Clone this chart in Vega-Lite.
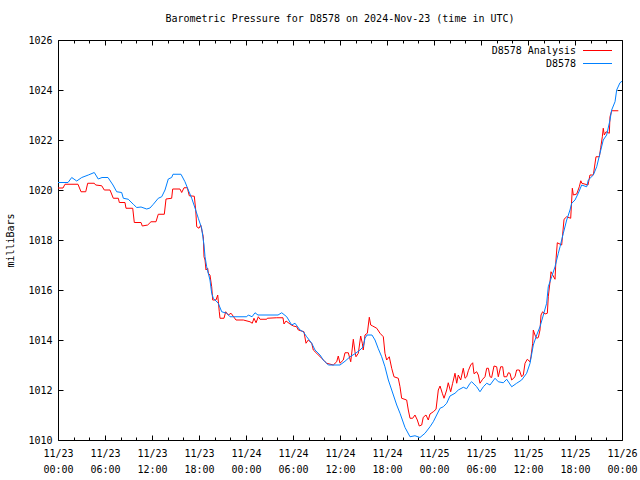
{
  "$schema": "https://vega.github.io/schema/vega-lite/v6.json",
  "width": 564,
  "height": 400,
  "autosize": {"type": "none"},
  "padding": {"left": 58, "top": 40, "right": 18, "bottom": 40},
  "background": "white",
  "title": {
    "text": "Barometric Pressure for D8578 on 2024-Nov-23 (time in UTC)",
    "font": "DejaVu Sans Mono",
    "fontSize": 10,
    "fontWeight": "normal",
    "color": "black",
    "anchor": "middle",
    "frame": "group",
    "offset": 11
  },
  "config": {
    "view": {"stroke": "black", "strokeWidth": 1},
    "axis": {"domain": false, "grid": false, "tickColor": "black", "labelColor": "black", "labelFont": "DejaVu Sans Mono", "labelFontSize": 10, "titleFont": "DejaVu Sans Mono", "titleFontSize": 10, "titleFontWeight": "normal", "titleColor": "black"}
  },
  "data": {
    "values": [
      {"hour":0,"mbar":1020.08,"series":"D8578 Analysis"},{"hour":0.64,"mbar":1020.08,"series":"D8578 Analysis"},{"hour":0.89,"mbar":1020.23,"series":"D8578 Analysis"},{"hour":2.55,"mbar":1020.23,"series":"D8578 Analysis"},{"hour":2.94,"mbar":1019.93,"series":"D8578 Analysis"},{"hour":3.54,"mbar":1019.93,"series":"D8578 Analysis"},{"hour":3.79,"mbar":1020.27,"series":"D8578 Analysis"},{"hour":4.63,"mbar":1020.27,"series":"D8578 Analysis"},{"hour":4.81,"mbar":1020.2,"series":"D8578 Analysis"},{"hour":5.58,"mbar":1020.17,"series":"D8578 Analysis"},{"hour":5.91,"mbar":1020.0,"series":"D8578 Analysis"},{"hour":6.64,"mbar":1020.0,"series":"D8578 Analysis"},{"hour":7.06,"mbar":1019.67,"series":"D8578 Analysis"},{"hour":7.7,"mbar":1019.67,"series":"D8578 Analysis"},{"hour":7.83,"mbar":1019.5,"series":"D8578 Analysis"},{"hour":8.55,"mbar":1019.5,"series":"D8578 Analysis"},{"hour":8.68,"mbar":1019.27,"series":"D8578 Analysis"},{"hour":9.54,"mbar":1019.27,"series":"D8578 Analysis"},{"hour":9.74,"mbar":1018.7,"series":"D8578 Analysis"},{"hour":10.6,"mbar":1018.7,"series":"D8578 Analysis"},{"hour":10.76,"mbar":1018.56,"series":"D8578 Analysis"},{"hour":11.45,"mbar":1018.6,"series":"D8578 Analysis"},{"hour":11.87,"mbar":1018.73,"series":"D8578 Analysis"},{"hour":12.51,"mbar":1018.73,"series":"D8578 Analysis"},{"hour":12.8,"mbar":1019.03,"series":"D8578 Analysis"},{"hour":13.57,"mbar":1019.03,"series":"D8578 Analysis"},{"hour":13.79,"mbar":1019.64,"series":"D8578 Analysis"},{"hour":14.51,"mbar":1019.67,"series":"D8578 Analysis"},{"hour":14.64,"mbar":1020.04,"series":"D8578 Analysis"},{"hour":15.57,"mbar":1020.04,"series":"D8578 Analysis"},{"hour":15.79,"mbar":1019.9,"series":"D8578 Analysis"},{"hour":16.09,"mbar":1020.09,"series":"D8578 Analysis"},{"hour":16.51,"mbar":1020.09,"series":"D8578 Analysis"},{"hour":16.76,"mbar":1019.77,"series":"D8578 Analysis"},{"hour":17.4,"mbar":1019.75,"series":"D8578 Analysis"},{"hour":17.58,"mbar":1019.2,"series":"D8578 Analysis"},{"hour":17.71,"mbar":1018.53,"series":"D8578 Analysis"},{"hour":18.0,"mbar":1018.47,"series":"D8578 Analysis"},{"hour":18.22,"mbar":1018.6,"series":"D8578 Analysis"},{"hour":18.55,"mbar":1018.13,"series":"D8578 Analysis"},{"hour":18.64,"mbar":1017.33,"series":"D8578 Analysis"},{"hour":18.77,"mbar":1017.2,"series":"D8578 Analysis"},{"hour":18.89,"mbar":1016.8,"series":"D8578 Analysis"},{"hour":19.11,"mbar":1016.87,"series":"D8578 Analysis"},{"hour":19.19,"mbar":1016.67,"series":"D8578 Analysis"},{"hour":19.4,"mbar":1016.6,"series":"D8578 Analysis"},{"hour":19.62,"mbar":1016.13,"series":"D8578 Analysis"},{"hour":19.75,"mbar":1015.6,"series":"D8578 Analysis"},{"hour":20.17,"mbar":1015.6,"series":"D8578 Analysis"},{"hour":20.39,"mbar":1015.8,"series":"D8578 Analysis"},{"hour":20.59,"mbar":1015.13,"series":"D8578 Analysis"},{"hour":20.68,"mbar":1014.87,"series":"D8578 Analysis"},{"hour":21.19,"mbar":1014.87,"series":"D8578 Analysis"},{"hour":21.41,"mbar":1015.13,"series":"D8578 Analysis"},{"hour":21.74,"mbar":1015.0,"series":"D8578 Analysis"},{"hour":22.09,"mbar":1015.07,"series":"D8578 Analysis"},{"hour":22.72,"mbar":1014.8,"series":"D8578 Analysis"},{"hour":23.66,"mbar":1014.8,"series":"D8578 Analysis"},{"hour":24.51,"mbar":1014.73,"series":"D8578 Analysis"},{"hour":24.8,"mbar":1014.67,"series":"D8578 Analysis"},{"hour":25.02,"mbar":1014.87,"series":"D8578 Analysis"},{"hour":25.28,"mbar":1014.69,"series":"D8578 Analysis"},{"hour":25.57,"mbar":1014.93,"series":"D8578 Analysis"},{"hour":25.79,"mbar":1014.83,"series":"D8578 Analysis"},{"hour":26.64,"mbar":1014.83,"series":"D8578 Analysis"},{"hour":26.72,"mbar":1014.87,"series":"D8578 Analysis"},{"hour":27.92,"mbar":1014.89,"series":"D8578 Analysis"},{"hour":28.72,"mbar":1014.89,"series":"D8578 Analysis"},{"hour":28.85,"mbar":1014.64,"series":"D8578 Analysis"},{"hour":29.11,"mbar":1014.76,"series":"D8578 Analysis"},{"hour":29.62,"mbar":1014.64,"series":"D8578 Analysis"},{"hour":30.04,"mbar":1014.56,"series":"D8578 Analysis"},{"hour":30.47,"mbar":1014.53,"series":"D8578 Analysis"},{"hour":30.68,"mbar":1014.4,"series":"D8578 Analysis"},{"hour":31.4,"mbar":1014.33,"series":"D8578 Analysis"},{"hour":31.66,"mbar":1013.87,"series":"D8578 Analysis"},{"hour":31.95,"mbar":1014.0,"series":"D8578 Analysis"},{"hour":32.39,"mbar":1013.87,"series":"D8578 Analysis"},{"hour":32.59,"mbar":1013.6,"series":"D8578 Analysis"},{"hour":33.02,"mbar":1013.47,"series":"D8578 Analysis"},{"hour":33.66,"mbar":1013.27,"series":"D8578 Analysis"},{"hour":34.09,"mbar":1013.13,"series":"D8578 Analysis"},{"hour":34.3,"mbar":1013.07,"series":"D8578 Analysis"},{"hour":35.14,"mbar":1013.0,"series":"D8578 Analysis"},{"hour":35.58,"mbar":1013.13,"series":"D8578 Analysis"},{"hour":35.78,"mbar":1013.36,"series":"D8578 Analysis"},{"hour":36.0,"mbar":1013.07,"series":"D8578 Analysis"},{"hour":36.42,"mbar":1013.2,"series":"D8578 Analysis"},{"hour":36.64,"mbar":1013.49,"series":"D8578 Analysis"},{"hour":37.06,"mbar":1013.49,"series":"D8578 Analysis"},{"hour":37.37,"mbar":1013.13,"series":"D8578 Analysis"},{"hour":37.7,"mbar":1014.03,"series":"D8578 Analysis"},{"hour":37.91,"mbar":1013.53,"series":"D8578 Analysis"},{"hour":38.04,"mbar":1013.33,"series":"D8578 Analysis"},{"hour":38.34,"mbar":1013.47,"series":"D8578 Analysis"},{"hour":38.64,"mbar":1014.16,"series":"D8578 Analysis"},{"hour":38.85,"mbar":1013.87,"series":"D8578 Analysis"},{"hour":38.97,"mbar":1013.6,"series":"D8578 Analysis"},{"hour":39.19,"mbar":1014.2,"series":"D8578 Analysis"},{"hour":39.49,"mbar":1014.27,"series":"D8578 Analysis"},{"hour":39.74,"mbar":1014.91,"series":"D8578 Analysis"},{"hour":39.92,"mbar":1014.6,"series":"D8578 Analysis"},{"hour":40.17,"mbar":1014.56,"series":"D8578 Analysis"},{"hour":40.69,"mbar":1014.47,"series":"D8578 Analysis"},{"hour":41.11,"mbar":1014.27,"series":"D8578 Analysis"},{"hour":41.53,"mbar":1014.13,"series":"D8578 Analysis"},{"hour":41.74,"mbar":1013.47,"series":"D8578 Analysis"},{"hour":41.96,"mbar":1013.2,"series":"D8578 Analysis"},{"hour":42.29,"mbar":1013.33,"series":"D8578 Analysis"},{"hour":42.6,"mbar":1012.87,"series":"D8578 Analysis"},{"hour":42.89,"mbar":1012.53,"series":"D8578 Analysis"},{"hour":43.44,"mbar":1012.47,"series":"D8578 Analysis"},{"hour":43.66,"mbar":1012.13,"series":"D8578 Analysis"},{"hour":43.87,"mbar":1011.67,"series":"D8578 Analysis"},{"hour":44.51,"mbar":1011.6,"series":"D8578 Analysis"},{"hour":44.72,"mbar":1011.2,"series":"D8578 Analysis"},{"hour":44.94,"mbar":1010.87,"series":"D8578 Analysis"},{"hour":45.28,"mbar":1010.87,"series":"D8578 Analysis"},{"hour":45.57,"mbar":1011.0,"series":"D8578 Analysis"},{"hour":45.87,"mbar":1010.8,"series":"D8578 Analysis"},{"hour":46.12,"mbar":1010.56,"series":"D8578 Analysis"},{"hour":46.43,"mbar":1010.6,"series":"D8578 Analysis"},{"hour":46.63,"mbar":1010.91,"series":"D8578 Analysis"},{"hour":46.98,"mbar":1011.0,"series":"D8578 Analysis"},{"hour":47.27,"mbar":1010.8,"series":"D8578 Analysis"},{"hour":47.49,"mbar":1011.04,"series":"D8578 Analysis"},{"hour":47.91,"mbar":1011.13,"series":"D8578 Analysis"},{"hour":48.26,"mbar":1011.23,"series":"D8578 Analysis"},{"hour":48.55,"mbar":1012.0,"series":"D8578 Analysis"},{"hour":48.77,"mbar":1012.16,"series":"D8578 Analysis"},{"hour":49.06,"mbar":1011.87,"series":"D8578 Analysis"},{"hour":49.28,"mbar":1011.67,"series":"D8578 Analysis"},{"hour":49.62,"mbar":1012.0,"series":"D8578 Analysis"},{"hour":49.82,"mbar":1012.29,"series":"D8578 Analysis"},{"hour":50.13,"mbar":1011.93,"series":"D8578 Analysis"},{"hour":50.38,"mbar":1012.27,"series":"D8578 Analysis"},{"hour":50.68,"mbar":1012.67,"series":"D8578 Analysis"},{"hour":50.9,"mbar":1012.27,"series":"D8578 Analysis"},{"hour":51.1,"mbar":1012.6,"series":"D8578 Analysis"},{"hour":51.41,"mbar":1012.4,"series":"D8578 Analysis"},{"hour":51.74,"mbar":1012.87,"series":"D8578 Analysis"},{"hour":51.96,"mbar":1012.47,"series":"D8578 Analysis"},{"hour":52.17,"mbar":1012.53,"series":"D8578 Analysis"},{"hour":52.38,"mbar":1012.77,"series":"D8578 Analysis"},{"hour":52.68,"mbar":1013.0,"series":"D8578 Analysis"},{"hour":52.94,"mbar":1013.09,"series":"D8578 Analysis"},{"hour":53.11,"mbar":1012.65,"series":"D8578 Analysis"},{"hour":53.45,"mbar":1012.73,"series":"D8578 Analysis"},{"hour":53.66,"mbar":1012.6,"series":"D8578 Analysis"},{"hour":53.87,"mbar":1012.27,"series":"D8578 Analysis"},{"hour":54.21,"mbar":1012.43,"series":"D8578 Analysis"},{"hour":54.51,"mbar":1012.53,"series":"D8578 Analysis"},{"hour":54.73,"mbar":1012.87,"series":"D8578 Analysis"},{"hour":54.94,"mbar":1012.87,"series":"D8578 Analysis"},{"hour":55.15,"mbar":1012.53,"series":"D8578 Analysis"},{"hour":55.36,"mbar":1012.5,"series":"D8578 Analysis"},{"hour":55.66,"mbar":1012.96,"series":"D8578 Analysis"},{"hour":56.0,"mbar":1012.93,"series":"D8578 Analysis"},{"hour":56.21,"mbar":1012.53,"series":"D8578 Analysis"},{"hour":56.51,"mbar":1012.93,"series":"D8578 Analysis"},{"hour":56.77,"mbar":1012.93,"series":"D8578 Analysis"},{"hour":56.94,"mbar":1012.53,"series":"D8578 Analysis"},{"hour":57.28,"mbar":1012.53,"series":"D8578 Analysis"},{"hour":57.49,"mbar":1012.69,"series":"D8578 Analysis"},{"hour":57.7,"mbar":1012.67,"series":"D8578 Analysis"},{"hour":57.92,"mbar":1012.4,"series":"D8578 Analysis"},{"hour":58.34,"mbar":1012.53,"series":"D8578 Analysis"},{"hour":58.55,"mbar":1012.8,"series":"D8578 Analysis"},{"hour":58.89,"mbar":1012.8,"series":"D8578 Analysis"},{"hour":59.19,"mbar":1012.53,"series":"D8578 Analysis"},{"hour":59.4,"mbar":1012.6,"series":"D8578 Analysis"},{"hour":59.62,"mbar":1013.07,"series":"D8578 Analysis"},{"hour":59.91,"mbar":1013.23,"series":"D8578 Analysis"},{"hour":60.26,"mbar":1013.13,"series":"D8578 Analysis"},{"hour":60.38,"mbar":1013.33,"series":"D8578 Analysis"},{"hour":60.6,"mbar":1013.87,"series":"D8578 Analysis"},{"hour":60.68,"mbar":1014.4,"series":"D8578 Analysis"},{"hour":60.89,"mbar":1014.2,"series":"D8578 Analysis"},{"hour":61.11,"mbar":1014.07,"series":"D8578 Analysis"},{"hour":61.32,"mbar":1014.1,"series":"D8578 Analysis"},{"hour":61.53,"mbar":1014.4,"series":"D8578 Analysis"},{"hour":61.66,"mbar":1015.0,"series":"D8578 Analysis"},{"hour":61.87,"mbar":1015.13,"series":"D8578 Analysis"},{"hour":62.17,"mbar":1015.04,"series":"D8578 Analysis"},{"hour":62.47,"mbar":1015.07,"series":"D8578 Analysis"},{"hour":62.59,"mbar":1015.73,"series":"D8578 Analysis"},{"hour":62.81,"mbar":1016.33,"series":"D8578 Analysis"},{"hour":62.94,"mbar":1016.73,"series":"D8578 Analysis"},{"hour":63.15,"mbar":1016.6,"series":"D8578 Analysis"},{"hour":63.45,"mbar":1016.43,"series":"D8578 Analysis"},{"hour":63.57,"mbar":1017.2,"series":"D8578 Analysis"},{"hour":63.74,"mbar":1017.89,"series":"D8578 Analysis"},{"hour":64.3,"mbar":1017.8,"series":"D8578 Analysis"},{"hour":64.6,"mbar":1018.83,"series":"D8578 Analysis"},{"hour":64.94,"mbar":1018.93,"series":"D8578 Analysis"},{"hour":65.45,"mbar":1018.87,"series":"D8578 Analysis"},{"hour":65.66,"mbar":1020.07,"series":"D8578 Analysis"},{"hour":65.79,"mbar":1019.8,"series":"D8578 Analysis"},{"hour":66.22,"mbar":1019.84,"series":"D8578 Analysis"},{"hour":66.55,"mbar":1020.13,"series":"D8578 Analysis"},{"hour":66.74,"mbar":1020.37,"series":"D8578 Analysis"},{"hour":66.87,"mbar":1020.27,"series":"D8578 Analysis"},{"hour":67.66,"mbar":1020.2,"series":"D8578 Analysis"},{"hour":67.91,"mbar":1020.6,"series":"D8578 Analysis"},{"hour":68.34,"mbar":1020.6,"series":"D8578 Analysis"},{"hour":68.68,"mbar":1021.33,"series":"D8578 Analysis"},{"hour":69.11,"mbar":1021.33,"series":"D8578 Analysis"},{"hour":69.28,"mbar":1021.69,"series":"D8578 Analysis"},{"hour":69.49,"mbar":1022.13,"series":"D8578 Analysis"},{"hour":69.61,"mbar":1022.47,"series":"D8578 Analysis"},{"hour":69.74,"mbar":1022.2,"series":"D8578 Analysis"},{"hour":69.96,"mbar":1022.33,"series":"D8578 Analysis"},{"hour":70.38,"mbar":1022.27,"series":"D8578 Analysis"},{"hour":70.47,"mbar":1022.93,"series":"D8578 Analysis"},{"hour":70.68,"mbar":1023.17,"series":"D8578 Analysis"},{"hour":71.53,"mbar":1023.17,"series":"D8578 Analysis"},
      {"hour":0,"mbar":1020.3,"series":"D8578"},{"hour":1.28,"mbar":1020.3,"series":"D8578"},{"hour":1.75,"mbar":1020.5,"series":"D8578"},{"hour":2.39,"mbar":1020.36,"series":"D8578"},{"hour":3.03,"mbar":1020.5,"series":"D8578"},{"hour":3.87,"mbar":1020.6,"series":"D8578"},{"hour":4.63,"mbar":1020.7,"series":"D8578"},{"hour":5.14,"mbar":1020.44,"series":"D8578"},{"hour":5.62,"mbar":1020.5,"series":"D8578"},{"hour":6.38,"mbar":1020.5,"series":"D8578"},{"hour":7.02,"mbar":1020.2,"series":"D8578"},{"hour":7.49,"mbar":1019.93,"series":"D8578"},{"hour":8.13,"mbar":1019.9,"series":"D8578"},{"hour":8.34,"mbar":1019.67,"series":"D8578"},{"hour":8.97,"mbar":1019.63,"series":"D8578"},{"hour":9.61,"mbar":1019.43,"series":"D8578"},{"hour":10.05,"mbar":1019.3,"series":"D8578"},{"hour":10.6,"mbar":1019.32,"series":"D8578"},{"hour":11.32,"mbar":1019.24,"series":"D8578"},{"hour":11.74,"mbar":1019.28,"series":"D8578"},{"hour":12.17,"mbar":1019.43,"series":"D8578"},{"hour":12.8,"mbar":1019.67,"series":"D8578"},{"hour":13.24,"mbar":1019.73,"series":"D8578"},{"hour":13.66,"mbar":1020.0,"series":"D8578"},{"hour":14.08,"mbar":1020.44,"series":"D8578"},{"hour":14.51,"mbar":1020.5,"series":"D8578"},{"hour":14.68,"mbar":1020.63,"series":"D8578"},{"hour":15.7,"mbar":1020.63,"series":"D8578"},{"hour":16.21,"mbar":1020.33,"series":"D8578"},{"hour":16.63,"mbar":1020.0,"series":"D8578"},{"hour":17.07,"mbar":1019.67,"series":"D8578"},{"hour":17.49,"mbar":1019.28,"series":"D8578"},{"hour":17.91,"mbar":1018.87,"series":"D8578"},{"hour":18.34,"mbar":1018.47,"series":"D8578"},{"hour":18.64,"mbar":1017.8,"series":"D8578"},{"hour":18.77,"mbar":1017.33,"series":"D8578"},{"hour":18.98,"mbar":1016.93,"series":"D8578"},{"hour":19.4,"mbar":1016.4,"series":"D8578"},{"hour":19.62,"mbar":1015.87,"series":"D8578"},{"hour":19.83,"mbar":1015.67,"series":"D8578"},{"hour":20.46,"mbar":1015.47,"series":"D8578"},{"hour":20.9,"mbar":1015.13,"series":"D8578"},{"hour":21.54,"mbar":1015.07,"series":"D8578"},{"hour":21.96,"mbar":1014.93,"series":"D8578"},{"hour":24.09,"mbar":1014.93,"series":"D8578"},{"hour":24.29,"mbar":1015.0,"series":"D8578"},{"hour":24.77,"mbar":1014.93,"series":"D8578"},{"hour":25.15,"mbar":1015.09,"series":"D8578"},{"hour":25.53,"mbar":1015.0,"series":"D8578"},{"hour":28.09,"mbar":1015.0,"series":"D8578"},{"hour":28.56,"mbar":1015.09,"series":"D8578"},{"hour":29.2,"mbar":1014.93,"series":"D8578"},{"hour":29.83,"mbar":1014.6,"series":"D8578"},{"hour":30.26,"mbar":1014.67,"series":"D8578"},{"hour":30.89,"mbar":1014.4,"series":"D8578"},{"hour":31.31,"mbar":1014.33,"series":"D8578"},{"hour":31.75,"mbar":1014.13,"series":"D8578"},{"hour":32.39,"mbar":1013.87,"series":"D8578"},{"hour":32.81,"mbar":1013.6,"series":"D8578"},{"hour":33.45,"mbar":1013.4,"series":"D8578"},{"hour":33.87,"mbar":1013.2,"series":"D8578"},{"hour":34.51,"mbar":1013.0,"series":"D8578"},{"hour":36.0,"mbar":1013.0,"series":"D8578"},{"hour":36.64,"mbar":1013.15,"series":"D8578"},{"hour":37.28,"mbar":1013.33,"series":"D8578"},{"hour":37.91,"mbar":1013.45,"series":"D8578"},{"hour":38.55,"mbar":1013.6,"series":"D8578"},{"hour":38.97,"mbar":1013.73,"series":"D8578"},{"hour":39.19,"mbar":1014.07,"series":"D8578"},{"hour":39.45,"mbar":1014.2,"series":"D8578"},{"hour":40.08,"mbar":1014.2,"series":"D8578"},{"hour":40.47,"mbar":1014.0,"series":"D8578"},{"hour":40.89,"mbar":1013.65,"series":"D8578"},{"hour":41.32,"mbar":1013.33,"series":"D8578"},{"hour":41.74,"mbar":1012.93,"series":"D8578"},{"hour":42.17,"mbar":1012.4,"series":"D8578"},{"hour":42.6,"mbar":1012.0,"series":"D8578"},{"hour":43.24,"mbar":1011.4,"series":"D8578"},{"hour":43.66,"mbar":1011.07,"series":"D8578"},{"hour":44.3,"mbar":1010.5,"series":"D8578"},{"hour":44.94,"mbar":1010.13,"series":"D8578"},{"hour":45.57,"mbar":1010.17,"series":"D8578"},{"hour":46.21,"mbar":1010.1,"series":"D8578"},{"hour":46.85,"mbar":1010.27,"series":"D8578"},{"hour":47.49,"mbar":1010.53,"series":"D8578"},{"hour":47.91,"mbar":1010.73,"series":"D8578"},{"hour":48.34,"mbar":1011.0,"series":"D8578"},{"hour":48.77,"mbar":1011.27,"series":"D8578"},{"hour":49.19,"mbar":1011.33,"series":"D8578"},{"hour":49.62,"mbar":1011.47,"series":"D8578"},{"hour":50.04,"mbar":1011.76,"series":"D8578"},{"hour":50.68,"mbar":1011.87,"series":"D8578"},{"hour":51.1,"mbar":1012.0,"series":"D8578"},{"hour":51.74,"mbar":1012.11,"series":"D8578"},{"hour":52.17,"mbar":1012.05,"series":"D8578"},{"hour":52.6,"mbar":1012.27,"series":"D8578"},{"hour":52.81,"mbar":1012.33,"series":"D8578"},{"hour":53.45,"mbar":1012.13,"series":"D8578"},{"hour":53.87,"mbar":1011.93,"series":"D8578"},{"hour":54.3,"mbar":1012.13,"series":"D8578"},{"hour":54.73,"mbar":1012.27,"series":"D8578"},{"hour":55.15,"mbar":1012.2,"series":"D8578"},{"hour":55.79,"mbar":1012.47,"series":"D8578"},{"hour":56.21,"mbar":1012.33,"series":"D8578"},{"hour":56.85,"mbar":1012.29,"series":"D8578"},{"hour":57.28,"mbar":1012.43,"series":"D8578"},{"hour":57.92,"mbar":1012.13,"series":"D8578"},{"hour":58.55,"mbar":1012.27,"series":"D8578"},{"hour":59.19,"mbar":1012.4,"series":"D8578"},{"hour":59.83,"mbar":1012.67,"series":"D8578"},{"hour":60.26,"mbar":1013.07,"series":"D8578"},{"hour":60.68,"mbar":1013.8,"series":"D8578"},{"hour":61.11,"mbar":1014.2,"series":"D8578"},{"hour":61.53,"mbar":1014.53,"series":"D8578"},{"hour":61.96,"mbar":1015.0,"series":"D8578"},{"hour":62.38,"mbar":1015.47,"series":"D8578"},{"hour":62.59,"mbar":1016.13,"series":"D8578"},{"hour":63.02,"mbar":1016.53,"series":"D8578"},{"hour":63.45,"mbar":1016.93,"series":"D8578"},{"hour":63.87,"mbar":1017.47,"series":"D8578"},{"hour":64.09,"mbar":1017.73,"series":"D8578"},{"hour":64.51,"mbar":1018.27,"series":"D8578"},{"hour":64.94,"mbar":1018.8,"series":"D8578"},{"hour":65.36,"mbar":1019.2,"series":"D8578"},{"hour":65.58,"mbar":1019.47,"series":"D8578"},{"hour":66.0,"mbar":1019.6,"series":"D8578"},{"hour":66.42,"mbar":1019.87,"series":"D8578"},{"hour":66.85,"mbar":1020.2,"series":"D8578"},{"hour":67.49,"mbar":1020.13,"series":"D8578"},{"hour":67.7,"mbar":1020.4,"series":"D8578"},{"hour":68.34,"mbar":1020.6,"series":"D8578"},{"hour":68.77,"mbar":1020.93,"series":"D8578"},{"hour":69.19,"mbar":1021.47,"series":"D8578"},{"hour":69.61,"mbar":1022.0,"series":"D8578"},{"hour":70.04,"mbar":1022.2,"series":"D8578"},{"hour":70.47,"mbar":1022.8,"series":"D8578"},{"hour":70.68,"mbar":1023.2,"series":"D8578"},{"hour":71.11,"mbar":1023.53,"series":"D8578"},{"hour":71.32,"mbar":1024.0,"series":"D8578"},{"hour":71.74,"mbar":1024.29,"series":"D8578"},{"hour":72.0,"mbar":1024.35,"series":"D8578"}
    ]
  },
  "resolve": {"axis": {"x": "independent", "y": "independent"}},
  "layer": [
    {
      "mark": {"type": "line", "strokeWidth": 1, "interpolate": "linear"},
      "encoding": {
        "x": {
          "field": "hour", "type": "quantitative",
          "scale": {"domain": [0, 72], "nice": false, "zero": false},
          "axis": {
            "orient": "bottom", "title": null,
            "values": [0, 6, 12, 18, 24, 30, 36, 42, 48, 54, 60, 66, 72],
            "tickSize": -5, "labelPadding": 13, "labelLineHeight": 16,
            "labelFlush": false, "labelOverlap": false,
            "labelExpr": "[['11/23','11/24','11/25','11/26'][floor(datum.value/24)], (datum.value % 24 < 10 ? '0' : '') + (datum.value % 24) + ':00']"
          }
        },
        "y": {
          "field": "mbar", "type": "quantitative",
          "scale": {"domain": [1010, 1026], "nice": false, "zero": false},
          "axis": {
            "orient": "left", "title": "milliBars", "format": "d",
            "values": [1010, 1012, 1014, 1016, 1018, 1020, 1022, 1024, 1026],
            "tickSize": -5, "labelPadding": 11, "titlePadding": 12,
            "labelFlush": false, "labelOverlap": false
          }
        },
        "color": {
          "field": "series", "type": "nominal",
          "scale": {"domain": ["D8578 Analysis", "D8578"], "range": ["#ff0000", "#0080ff"]},
          "sort": ["D8578 Analysis", "D8578"],
          "legend": {
            "title": null, "orient": "none", "legendX": 534, "legendY": 5, "padding": 0,
            "symbolType": "M-2.9,0H2.9", "symbolSize": 100, "symbolStrokeWidth": 1,
            "labelAlign": "right", "labelBaseline": "middle", "labelOffset": -27, "symbolOffset": 0,
            "labelFont": "DejaVu Sans Mono", "labelFontSize": 10, "labelColor": "black",
            "rowPadding": 2
          }
        }
      }
    },
    {
      "mark": {"type": "point", "opacity": 0},
      "encoding": {
        "x": {
          "field": "hour", "type": "quantitative",
          "axis": {"orient": "top", "title": null, "labels": false, "values": [0, 6, 12, 18, 24, 30, 36, 42, 48, 54, 60, 66, 72], "tickSize": -5}
        },
        "y": {
          "field": "mbar", "type": "quantitative",
          "axis": {"orient": "right", "title": null, "labels": false, "values": [1010, 1012, 1014, 1016, 1018, 1020, 1022, 1024, 1026], "tickSize": -5}
        }
      }
    },
    {
      "mark": {"type": "point", "opacity": 0},
      "encoding": {
        "x": {
          "field": "hour", "type": "quantitative",
          "axis": {"orient": "bottom", "title": null, "labels": false, "values": [2, 4, 8, 10, 14, 16, 20, 22, 26, 28, 32, 34, 38, 40, 44, 46, 50, 52, 56, 58, 62, 64, 68, 70], "tickSize": -3}
        },
        "y": {"field": "mbar", "type": "quantitative", "axis": null}
      }
    },
    {
      "mark": {"type": "point", "opacity": 0},
      "encoding": {
        "x": {
          "field": "hour", "type": "quantitative",
          "axis": {"orient": "top", "title": null, "labels": false, "values": [2, 4, 8, 10, 14, 16, 20, 22, 26, 28, 32, 34, 38, 40, 44, 46, 50, 52, 56, 58, 62, 64, 68, 70], "tickSize": -3}
        },
        "y": {"field": "mbar", "type": "quantitative", "axis": null}
      }
    }
  ]
}
